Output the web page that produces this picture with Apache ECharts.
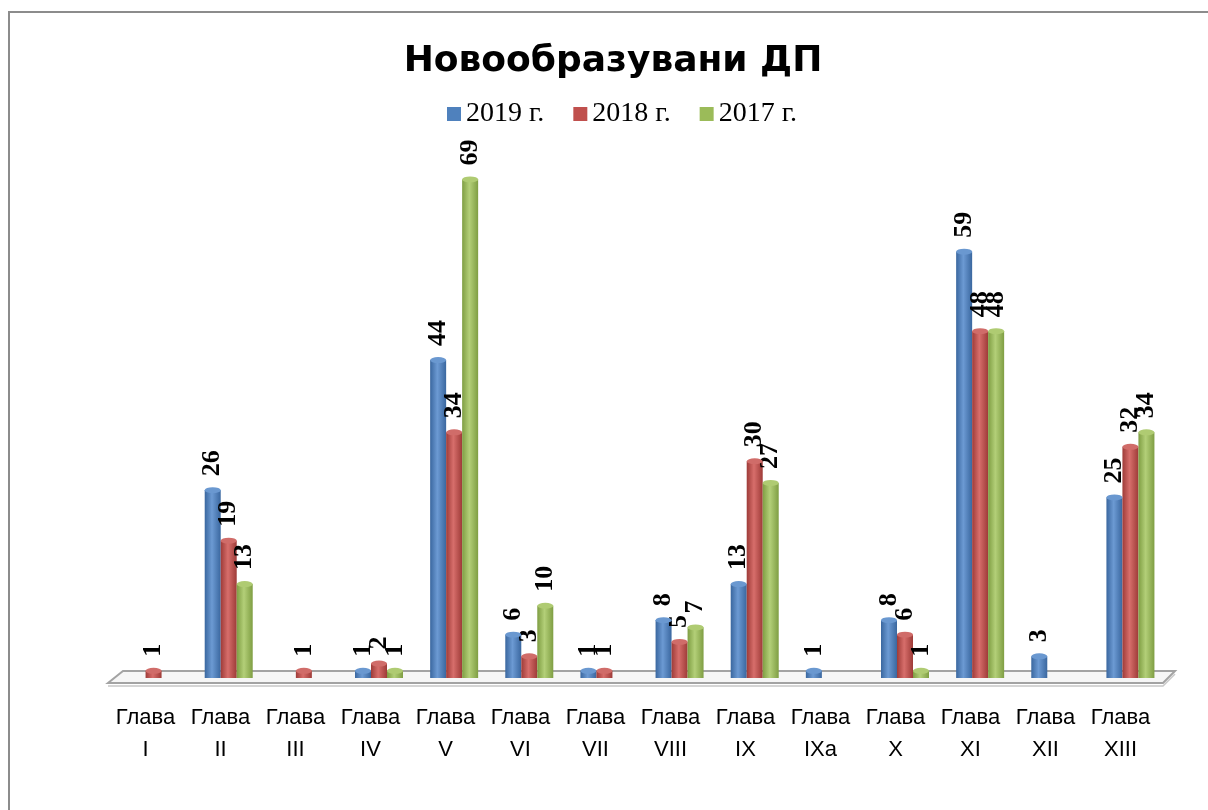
<!DOCTYPE html>
<html>
<head>
<meta charset="utf-8">
<script src="https://cdn.jsdelivr.net/npm/echarts@6/dist/echarts.min.js"></script>
<style>
html,body{margin:0;padding:0;background:#fff;}
#chart{width:1208px;height:810px;}
</style>
</head>
<body>
<div id="chart"></div>
<script>
const categories = ['Глава I','Глава II','Глава III','Глава IV','Глава V','Глава VI','Глава VII','Глава VIII','Глава IX','Глава IXa','Глава X','Глава XI','Глава XII','Глава XIII'];
const values2019 = [null,26,null,1,44,6,1,8,13,1,8,59,3,25];
const values2018 = [1,19,1,2,34,3,1,5,30,null,6,48,null,32];
const values2017 = [null,13,null,1,69,10,null,7,27,null,1,48,null,34];
const seriesNames = ['2019 г.','2018 г.','2017 г.'];
const titleText = 'Новообразувани ДП';

const palette = [
  {base:'#4F81BD', dark:'#3A679F', light:'#6C9AD3', cap:'#6A98D0'},
  {base:'#C0504D', dark:'#9E3B38', light:'#D76E6B', cap:'#D06C69'},
  {base:'#9BBB59', dark:'#7F9E43', light:'#B3CF78', cap:'#AFCB72'}
];
const allValues = [values2019, values2018, values2017];

function grad(p){
  return {type:'linear', x:0, y:0, x2:1, y2:0, colorStops:[
    {offset:0, color:p.dark},
    {offset:0.45, color:p.light},
    {offset:1, color:p.dark}
  ]};
}

const chart = echarts.init(document.getElementById('chart'));
const series = [];
seriesNames.forEach((name, i) => {
  series.push({
    name: name,
    type: 'bar',
    xAxisIndex: 0, yAxisIndex: 0,
    data: allValues[i],
    barWidth: 16,
    barGap: '0%',
    itemStyle: {color: grad(palette[i])},
    label: {
      show: true, position: 'top', rotate: 90, align: 'left', verticalAlign: 'middle',
      distance: 14, fontFamily: 'Liberation Serif', fontWeight: 'bold', fontSize: 26, color: '#000',
      formatter: '{c}'
    },
    z: 2
  });
});
seriesNames.forEach((name, i) => {
  series.push({
    name: name + ' cap',
    type: 'pictorialBar',
    xAxisIndex: 0, yAxisIndex: 0,
    data: allValues[i],
    barWidth: 16,
    barGap: '0%',
    symbol: 'circle',
    symbolSize: [16, 6],
    symbolPosition: 'end',
    symbolOffset: [0, '-50%'],
    itemStyle: {color: palette[i].cap},
    z: 3,
    silent: true
  });
});

chart.setOption({
  animation: false,
  backgroundColor: '#fff',
  title: {
    text: titleText,
    left: 613, top: 44, textAlign: 'center', padding: 0,
    textStyle: {fontFamily: 'DejaVu Sans', fontWeight: 'bold', fontSize: 36, color: '#000'}
  },
  legend: {
    data: seriesNames.map((n, i) => ({name: n, icon: 'rect', itemStyle: {color: palette[i].base}})),
    left: 447, top: 100, padding: 0,
    itemWidth: 14, itemHeight: 14, itemGap: 29,
    textStyle: {fontFamily: 'Liberation Serif', fontSize: 28, color: '#000'}
  },
  grid: [
    {left: 116, right: 40, top: 100, bottom: 132},
    {left: 108, right: 50, top: 100, bottom: 132}
  ],
  xAxis: [
    {type: 'category', gridIndex: 0, data: categories, show: false},
    {type: 'category', gridIndex: 1, data: categories,
     axisLine: {show: false}, axisTick: {show: false},
     axisLabel: {interval: 0, margin: 24, fontFamily: 'Liberation Sans', fontSize: 22, lineHeight: 32, color: '#000',
       formatter: v => v.replace(' ', '\n')}}
  ],
  yAxis: [
    {type: 'value', gridIndex: 0, min: 0, max: 80, show: false},
    {type: 'value', gridIndex: 1, min: 0, max: 80, show: false}
  ],
  graphic: [
    {type: 'rect', shape: {x: 9, y: 12, width: 1220, height: 820}, style: {fill: 'none', stroke: '#8c8c8c', lineWidth: 2}, z: -10},
    {type: 'polygon', shape: {points: [[108,683],[123,671],[1175,671],[1163,683]]}, style: {fill: '#f6f6f6', stroke: '#a3a3a3', lineWidth: 2}, z: -5},
    {type: 'polyline', shape: {points: [[108,686],[1163,686],[1175,674]]}, style: {fill: 'none', stroke: '#c8c8c8', lineWidth: 1.5}, z: -5}
  ],
  series: series
});
</script>
</body>
</html>
